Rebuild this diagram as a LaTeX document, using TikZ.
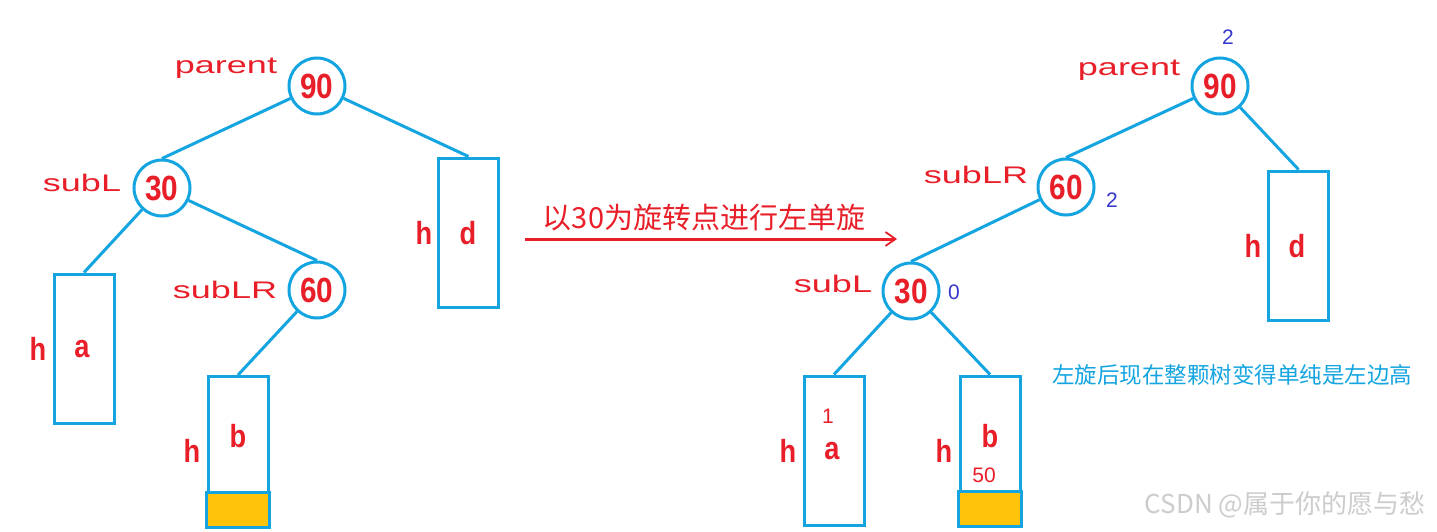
\documentclass[tikz,border=0pt]{standalone}
\usepackage{fontspec}
\setmainfont{Liberation Sans}
\newfontfamily\cjk{Noto Sans CJK SC}
\newfontfamily\labelfont[FakeStretch=1.5]{Liberation Sans}
\newfontfamily\numfont[FakeStretch=0.85]{Liberation Sans}
\usetikzlibrary{arrows.meta,calc}
\definecolor{tblue}{RGB}{20,165,225}
\definecolor{tred}{RGB}{232,30,40}
\definecolor{tyellow}{RGB}{255,195,10}
\definecolor{nblue}{RGB}{55,55,205}
\begin{document}
\begin{tikzpicture}[x=1pt,y=-1pt,
 treenode/.style={circle,draw=tblue,line width=3pt,fill=white,minimum size=56pt,inner sep=0pt,font=\numfont\bfseries\fontsize{35}{35}\selectfont,text=tred},
 hbox/.style={rectangle,draw=tblue,line width=3pt,minimum width=60pt,minimum height=149pt,inner sep=0pt},
 edge/.style={draw=tblue,line width=3pt},
 rolelabel/.style={font=\labelfont\fontsize{24}{24}\selectfont,text=tred,inner sep=0pt},
 letter/.style={font=\numfont\bfseries\fontsize{32}{32}\selectfont,text=tred,inner sep=0pt},
 smallnum/.style={font=\fontsize{21}{21}\selectfont,text=tred,inner sep=0pt},
 bfnum/.style={font=\fontsize{21}{21}\selectfont,text=nblue,inner sep=0pt},
]
\useasboundingbox[fill=white] (0,0) rectangle (1437,532);

% ---------- left tree ----------
\node[hbox] (La) at (84,348.5) {};
\node[hbox] (Ld) at (468.5,232.5) {};
\node[hbox] (Lb) at (238,451) {};
\draw[draw=tblue,line width=3pt,fill=tyellow] (Lb.south west) rectangle ($(Lb.south east)+(0,-35)$);

\node[treenode] (L90) at (317,86) {90};
\node[treenode] (L30) at (162,188) {30};
\node[treenode] (L60) at (317,290) {60};

\draw[edge] (L90) -- (L30.north);
\draw[edge] (L90) -- (Ld.north);
\draw[edge] (L30) -- (La.north);
\draw[edge] (L30) -- (L60.north);
\draw[edge] (L60) -- (Lb.north);

\node[rolelabel] (Lp) at (226,68) {parent};
\node[rolelabel] (LsL) at (82,183) {subL};
\node[rolelabel] (LsLR) at (225,290) {subLR};

\node[letter] (Lha) at (38,349) {h};
\node[letter] (Lta) at (82,349) {a};
\node[letter] (Lhd) at (424,233) {h};
\node[letter] (Ltd) at (468,233) {d};
\node[letter] (Lhb) at (192,451) {h};
\node[letter] (Ltb) at (238,436) {b};

% ---------- arrow ----------
\coordinate (arrS) at (525,239);
\coordinate (arrE) at (897,239);
\draw[draw=tred,line width=3pt,-{Straight Barb[length=10pt,width=14pt,line width=1.8pt]}] (arrS) -- (arrE);
\node[font=\cjk\fontsize{29}{29}\selectfont,text=tred,inner sep=0pt] (arrT) at (704,218) {以30为旋转点进行左单旋};

% ---------- right tree ----------
\node[hbox] (Ra) at (834,450.5) {};
\node[hbox] (Rb) at (990,450.5) {};
\node[hbox] (Rd) at (1298.5,245.5) {};
\draw[draw=tblue,line width=3pt,fill=tyellow] (Rb.south west) rectangle ($(Rb.south east)+(0,-35)$);

\node[treenode] (R90) at (1220,86) {90};
\node[treenode] (R60) at (1066,187) {60};
\node[treenode] (R30) at (911,291) {30};

\draw[edge] (R90) -- (R60.north);
\draw[edge] (R90) -- (Rd.north);
\draw[edge] (R60) -- (R30.north);
\draw[edge] (R30) -- (Ra.north);
\draw[edge] (R30) -- (Rb.north);

\node[rolelabel] (Rp) at (1129,70) {parent};
\node[rolelabel] (RsLR) at (976,175) {subLR};
\node[rolelabel] (RsL) at (833,284) {subL};

\node[bfnum] (R90n) at (1228,37) {2};
\node[bfnum] (R60n) at (1112,200) {2};
\node[bfnum] (R30n) at (954,292) {0};

\node[letter] (Rha) at (788,451) {h};
\node[letter] (Rta) at (832,451) {a};
\node[smallnum] (Rna) at (828,416) {1};
\node[letter] (Rhb) at (944,451) {h};
\node[letter] (Rtb) at (990,436) {b};
\node[smallnum] (Rnb) at (984,475) {50};
\node[letter] (Rhd) at (1253,246) {h};
\node[letter] (Rtd) at (1297,246) {d};

\node[font=\cjk\fontsize{22.5}{22.5}\selectfont,text=tblue,inner sep=0pt] (note) at (1232,375) {左旋后现在整颗树变得单纯是左边高};

\node[font=\cjk\fontsize{26}{26}\selectfont,text=gray!40,inner sep=0pt] (wm) at (1285,505) {CSDN @属于你的愿与愁};
\end{tikzpicture}
\end{document}
